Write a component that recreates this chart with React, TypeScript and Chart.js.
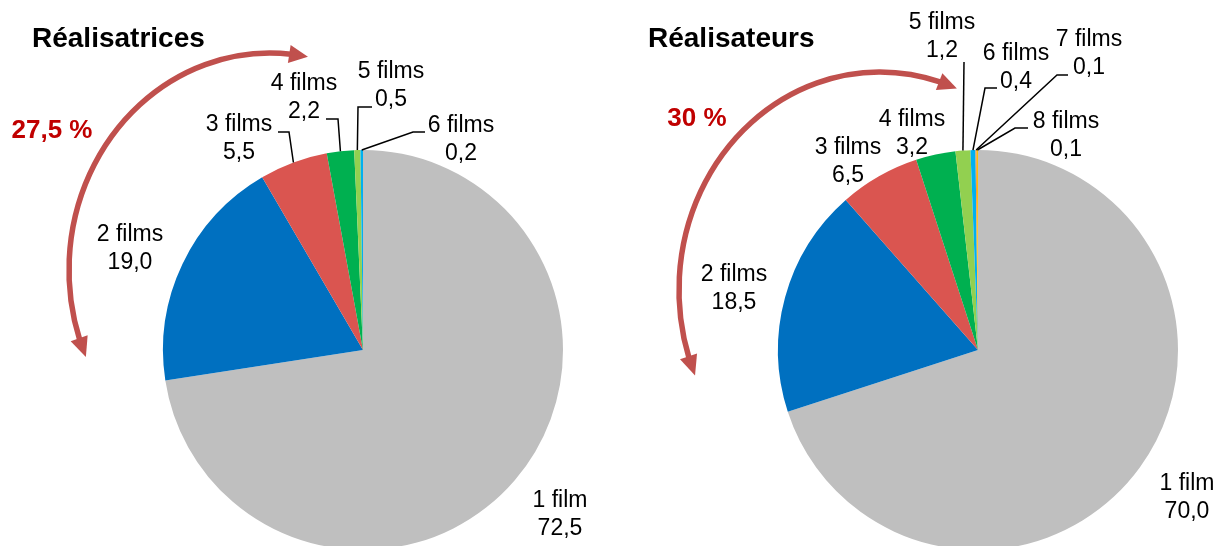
import React, { useEffect, useRef } from "react";
import { Chart, registerables } from "chart.js";

Chart.register(...registerables);

// ---------- data ----------
const categoriesF = ["1 film", "2 films", "3 films", "4 films", "5 films", "6 films"];
const valuesF = [72.5, 19.0, 5.5, 2.2, 0.5, 0.2];
const categoriesM = ["1 film", "2 films", "3 films", "4 films", "5 films", "6 films", "7 films", "8 films"];
const valuesM = [70.0, 18.5, 6.5, 3.2, 1.2, 0.4, 0.1, 0.1];
const sliceColors = ["#BFBFBF", "#0070C0", "#DA5550", "#00B050", "#92D050", "#00B0F0", "#F79646", "#FFC000"];
const titleF = "Réalisatrices";
const titleM = "Réalisateurs";
const shareF = "27,5 %";
const shareM = "30 %";

// ---------- layout ----------
const W = 1218;
const H = 600;
const FONT = "'Liberation Sans', Arial, Helvetica, sans-serif";

type LabelPos = { x: number; y: number; leader?: number[][] };

const labelsLayoutF: LabelPos[] = [
  { x: 560, y: 501 },
  { x: 130, y: 235 },
  { x: 239, y: 125, leader: [[278, 132], [289, 132]] },
  { x: 304, y: 84, leader: [[326, 119], [338, 119]] },
  { x: 391, y: 72, leader: [[372, 107], [358, 107]] },
  { x: 461, y: 126, leader: [[425, 132], [413, 132]] },
];

const labelsLayoutM: LabelPos[] = [
  { x: 1187, y: 484 },
  { x: 734, y: 275 },
  { x: 848, y: 148 },
  { x: 912, y: 120 },
  { x: 942, y: 23, leader: [[964, 62]] },
  { x: 1016, y: 54, leader: [[997, 88], [985, 88]] },
  { x: 1089, y: 40, leader: [[1068, 75], [1057, 75]] },
  { x: 1066, y: 122, leader: [[1028, 128], [1015, 128]] },
];

type ChartCfg = {
  categories: string[];
  values: number[];
  title: string;
  titleX: number;
  share: string;
  shareX: number;
  shareY: number;
  labels: LabelPos[];
  padding: { left: number; right: number; top: number; bottom: number };
  arrow: { dx: number; dy: number; rx: number; ry: number; a0: number; a1: number };
};

const cfgF: ChartCfg = {
  categories: categoriesF,
  values: valuesF,
  title: titleF,
  titleX: 32,
  share: shareF,
  shareX: 52,
  shareY: 131,
  labels: labelsLayoutF,
  padding: { left: 163, right: W - 563, top: 150, bottom: H - 550 },
  arrow: { dx: -93, dy: -80, rx: 201, ry: 217, a0: 156.6, a1: 280.6 },
};

const cfgM: ChartCfg = {
  categories: categoriesM,
  values: valuesM,
  title: titleM,
  titleX: 648,
  share: shareM,
  shareX: 697,
  shareY: 119,
  labels: labelsLayoutM,
  padding: { left: 778, right: W - 1178, top: 150, bottom: H - 550 },
  arrow: { dx: -98, dy: -60, rx: 201, ry: 218, a0: 157.2, a1: 292.2 },
};

const fmt = (v: number) => v.toFixed(1).replace(".", ",");

function makeOverlay(cfg: ChartCfg) {
  return {
    id: "overlay",
    afterDraw(chart: any) {
      const ctx: CanvasRenderingContext2D = chart.ctx;
      const meta = chart.getDatasetMeta(0);
      const arcs = meta.data as any[];
      if (!arcs.length) return;
      const cx = arcs[0].x;
      const cy = arcs[0].y;
      ctx.save();

      // title
      ctx.fillStyle = "#000";
      ctx.font = `bold 28px ${FONT}`;
      ctx.textAlign = "left";
      ctx.textBaseline = "alphabetic";
      ctx.fillText(cfg.title, cfg.titleX, 47);

      // share label
      ctx.fillStyle = "#C00000";
      ctx.font = `bold 26px ${FONT}`;
      ctx.textAlign = "center";
      ctx.textBaseline = "middle";
      ctx.fillText(cfg.share, cfg.shareX, cfg.shareY);

      // arrow (elliptical arc with two heads)
      const a = cfg.arrow;
      const ex = cx + a.dx;
      const ey = cy + a.dy;
      const rad = (d: number) => (d * Math.PI) / 180;
      const pt = (deg: number) => [ex + a.rx * Math.cos(rad(deg)), ey + a.ry * Math.sin(rad(deg))];
      const headDeg = 4.6;
      const b0 = a.a0 + headDeg;
      const b1 = a.a1 - headDeg;
      ctx.strokeStyle = "#C0504D";
      ctx.fillStyle = "#C0504D";
      ctx.lineWidth = 5.5;
      ctx.beginPath();
      ctx.ellipse(ex, ey, a.rx, a.ry, 0, rad(b0), rad(b1), false);
      ctx.stroke();
      const head = (tipDeg: number, baseDeg: number) => {
        const [tx, ty] = pt(tipDeg);
        const [bx, by] = pt(baseDeg);
        const dx = tx - bx;
        const dy = ty - by;
        const len = Math.hypot(dx, dy) || 1;
        const ux = dx / len;
        const uy = dy / len;
        const hw = 9;
        ctx.beginPath();
        ctx.moveTo(tx + ux * 1, ty + uy * 1);
        ctx.lineTo(bx - uy * hw, by + ux * hw);
        ctx.lineTo(bx + uy * hw, by - ux * hw);
        ctx.closePath();
        ctx.fill();
      };
      head(a.a0, b0 + 0.5);
      head(a.a1, b1 - 0.5);

      // category labels and leaders
      ctx.fillStyle = "#000";
      ctx.strokeStyle = "#000";
      ctx.lineWidth = 1.5;
      ctx.font = `23px ${FONT}`;
      ctx.textAlign = "center";
      ctx.textBaseline = "middle";
      cfg.labels.forEach((lp, i) => {
        const arc = arcs[i];
        if (!arc) return;
        ctx.fillText(cfg.categories[i], lp.x, lp.y);
        ctx.fillText(fmt(cfg.values[i]), lp.x, lp.y + 28);
        if (lp.leader) {
          const mid = (arc.startAngle + arc.endAngle) / 2;
          const ax = arc.x + arc.outerRadius * Math.cos(mid);
          const ay = arc.y + arc.outerRadius * Math.sin(mid);
          ctx.beginPath();
          ctx.moveTo(lp.leader[0][0], lp.leader[0][1]);
          for (let k = 1; k < lp.leader.length; k++) ctx.lineTo(lp.leader[k][0], lp.leader[k][1]);
          ctx.lineTo(ax, ay);
          ctx.stroke();
        }
      });
      ctx.restore();
    },
  };
}

function PieCanvas({ cfg }: { cfg: ChartCfg }) {
  const ref = useRef<HTMLCanvasElement | null>(null);
  useEffect(() => {
    if (!ref.current) return;
    const chart = new Chart(ref.current, {
      type: "pie",
      data: {
        labels: cfg.categories,
        datasets: [
          {
            data: cfg.values,
            backgroundColor: sliceColors.slice(0, cfg.values.length),
            borderWidth: 0,
          },
        ],
      },
      options: {
        responsive: false,
        animation: false,
        events: [],
        layout: { padding: cfg.padding },
        plugins: {
          legend: { display: false },
          tooltip: { enabled: false },
        },
      },
      plugins: [makeOverlay(cfg)],
    } as any);
    return () => chart.destroy();
  }, [cfg]);
  return (
    <canvas
      ref={ref}
      width={W}
      height={H}
      style={{ position: "absolute", left: 0, top: 0, width: W, height: H }}
    />
  );
}

export default function App() {
  return (
    <div
      style={{
        position: "fixed",
        left: 0,
        top: 0,
        width: W,
        height: 546,
        overflow: "hidden",
        background: "#fff",
      }}
    >
      <PieCanvas cfg={cfgF} />
      <PieCanvas cfg={cfgM} />
    </div>
  );
}
